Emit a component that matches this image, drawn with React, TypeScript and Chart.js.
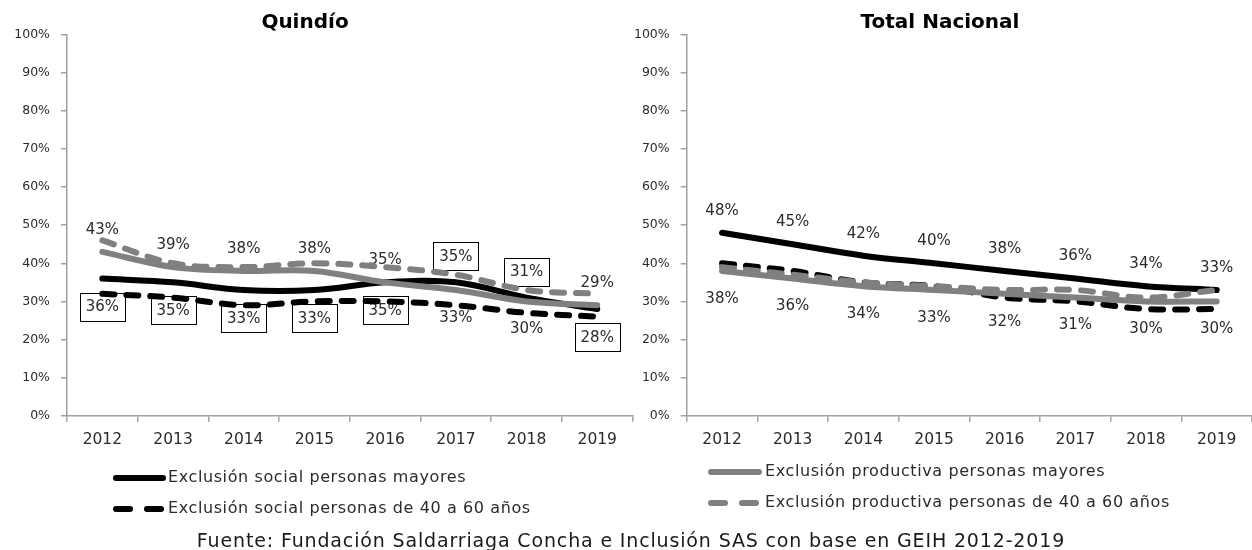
import React, { useEffect, useRef } from "react";
import { Chart, registerables } from "chart.js";

Chart.register(...registerables);

// ---------- data ----------
const years = ["2012", "2013", "2014", "2015", "2016", "2017", "2018", "2019"];

const seriesNames = [
  "Exclusión social personas mayores",
  "Exclusión social personas de 40 a 60 años",
  "Exclusión productiva personas mayores",
  "Exclusión productiva personas de 40 a 60 años",
];

const quindioSocialMayores = [36, 35, 33, 33, 35, 35, 31, 28];
const quindioSocial4060 = [32, 31, 29, 30, 30, 29, 27, 26];
const quindioProductivaMayores = [43, 39, 38, 38, 35, 33, 30, 29];
const quindioProductiva4060 = [46, 40, 39, 40, 39, 37, 33, 32];

const nacionalSocialMayores = [48, 45, 42, 40, 38, 36, 34, 33];
const nacionalSocial4060 = [40, 38, 35, 34, 31, 30, 28, 28];
const nacionalProductivaMayores = [38, 36, 34, 33, 32, 31, 30, 30];
const nacionalProductiva4060 = [39, 37, 35, 34, 33, 33, 31, 33];

const sourceText =
  "Fuente: Fundación Saldarriaga Concha e Inclusión SAS con base en GEIH 2012-2019";

// ---------- label placement (style, not data) ----------
type Place = "above" | "below";
const quindioBoxedPlaces: Place[] = ["below", "below", "below", "below", "below", "above", "above", "below"];
const quindioProdPlaces: Place[] = ["above", "above", "above", "above", "above", "below", "below", "above"];
const nacionalSocialPlaces: Place[] = ["above", "above", "above", "above", "above", "above", "above", "above"];
const nacionalProdPlaces: Place[] = ["below", "below", "below", "below", "below", "below", "below", "below"];

const FONT = '"DejaVu Sans", sans-serif';
const BLACK = "#000000";
const GRAY = "#808080";
const AXIS = "#a0a0a0";
const TEXT = "#2b2b2b";

Chart.defaults.font.family = FONT;

type SeriesSpec = { name: string; data: number[]; color: string; dashed: boolean; order: number };
type LabelSpec = { dataset: number; places: Place[]; boxed: boolean };
type LegendSpec = { dataset: number; x1: number; x2: number; tx: number; y: number };
type PanelSpec = {
  title: string;
  titleX: number;
  series: SeriesSpec[];
  labels: LabelSpec[];
  legend: LegendSpec[];
  yAxisWidth: number;
  padRight: number;
};

function makeSeries(a: number[], b: number[], c: number[], d: number[]): SeriesSpec[] {
  return [
    { name: seriesNames[0], data: a, color: BLACK, dashed: false, order: 4 },
    { name: seriesNames[1], data: b, color: BLACK, dashed: true, order: 3 },
    { name: seriesNames[2], data: c, color: GRAY, dashed: false, order: 2 },
    { name: seriesNames[3], data: d, color: GRAY, dashed: true, order: 1 },
  ];
}

const leftSpec: PanelSpec = {
  title: "Quindío",
  titleX: 305,
  series: makeSeries(quindioSocialMayores, quindioSocial4060, quindioProductivaMayores, quindioProductiva4060),
  labels: [
    { dataset: 0, places: quindioBoxedPlaces, boxed: true },
    { dataset: 2, places: quindioProdPlaces, boxed: false },
  ],
  legend: [
    { dataset: 0, x1: 116, x2: 163, tx: 168, y: 478 },
    { dataset: 1, x1: 116, x2: 163, tx: 168, y: 509 },
  ],
  yAxisWidth: 67,
  padRight: 12.4,
};

const rightSpec: PanelSpec = {
  title: "Total Nacional",
  titleX: 320,
  series: makeSeries(nacionalSocialMayores, nacionalSocial4060, nacionalProductivaMayores, nacionalProductiva4060),
  labels: [
    { dataset: 0, places: nacionalSocialPlaces, boxed: false },
    { dataset: 2, places: nacionalProdPlaces, boxed: false },
  ],
  legend: [
    { dataset: 2, x1: 91, x2: 139, tx: 145, y: 472 },
    { dataset: 3, x1: 91, x2: 139, tx: 145, y: 503 },
  ],
  yAxisWidth: 66.7,
  padRight: 0,
};

function buildChart(canvas: HTMLCanvasElement, spec: PanelSpec) {
  const datasets = spec.series.map((s) => ({
    label: s.name,
    data: s.data,
    borderColor: s.color,
    backgroundColor: s.color,
    borderWidth: 6,
    borderDash: s.dashed ? [12, 12] : [],
    borderCapStyle: "round" as const,
    borderJoinStyle: "round" as const,
    pointRadius: 0,
    pointHoverRadius: 0,
    tension: 0.35,
    fill: false,
    order: s.order,
  }));

  const decor = {
    id: "decor",
    beforeDatasetsDraw(chart: any) {
      const ctx = chart.ctx as CanvasRenderingContext2D;
      ctx.save();
      ctx.font = `15px ${FONT}`;
      ctx.textAlign = "center";
      ctx.textBaseline = "middle";
      for (const l of spec.labels) {
        const meta = chart.getDatasetMeta(l.dataset);
        const values = spec.series[l.dataset].data;
        meta.data.forEach((pt: any, i: number) => {
          const place = l.places[i];
          let off: number;
          if (l.boxed) off = place === "above" ? -26 : 28;
          else off = place === "above" ? -23 : 27;
          const x = pt.x;
          const y = pt.y + off;
          if (l.boxed) {
            ctx.strokeStyle = "#000";
            ctx.lineWidth = 1;
            ctx.strokeRect(Math.round(x - 22.5) + 0.5, Math.round(y - 14) + 0.5, 45, 28);
          }
          ctx.fillStyle = TEXT;
          ctx.fillText(`${values[i]}%`, x, y + 1);
        });
      }
      ctx.restore();
    },
    afterDraw(chart: any) {
      const ctx = chart.ctx as CanvasRenderingContext2D;
      ctx.save();
      // title
      ctx.font = `bold 20px ${FONT}`;
      ctx.fillStyle = "#000";
      ctx.textAlign = "center";
      ctx.textBaseline = "alphabetic";
      ctx.fillText(spec.title, spec.titleX, 28);
      // legend
      for (const lg of spec.legend) {
        const s = spec.series[lg.dataset];
        ctx.beginPath();
        ctx.strokeStyle = s.color;
        ctx.lineWidth = 6;
        ctx.lineCap = "round";
        ctx.setLineDash(s.dashed ? [14, 17] : []);
        ctx.moveTo(lg.x1, lg.y);
        ctx.lineTo(lg.x2, lg.y);
        ctx.stroke();
        ctx.setLineDash([]);
        ctx.font = `16px ${FONT}`;
        (ctx as any).letterSpacing = "0.6px";
        ctx.fillStyle = TEXT;
        ctx.textAlign = "left";
        ctx.textBaseline = "middle";
        ctx.fillText(s.name, lg.tx, lg.y);
        (ctx as any).letterSpacing = "0px";
      }
      ctx.restore();
    },
  };

  return new Chart(canvas, {
    type: "line",
    data: { labels: years, datasets: datasets as any },
    options: {
      responsive: false,
      animation: false,
      devicePixelRatio: 1,
      layout: { padding: { top: 34.7, right: spec.padRight, bottom: 0, left: 0 } },
      plugins: {
        legend: { display: false },
        tooltip: { enabled: false },
        title: { display: false },
      },
      scales: {
        x: {
          offset: true,
          grid: {
            offset: true,
            drawOnChartArea: false,
            drawTicks: true,
            tickLength: 6,
            color: AXIS,
            lineWidth: 1.5,
          },
          border: { color: AXIS, width: 1.5 },
          ticks: {
            color: TEXT,
            font: { size: 15.5, family: FONT },
            padding: 9,
            maxRotation: 0,
            autoSkip: false,
          },
          afterFit: (s: any) => {
            s.height = 134.3;
          },
        },
        y: {
          min: 0,
          max: 100,
          ticks: {
            stepSize: 10,
            callback: (v: any) => `${v}%`,
            color: TEXT,
            font: { size: 12.5, family: FONT },
            padding: 11,
          },
          grid: {
            drawOnChartArea: false,
            drawTicks: true,
            tickLength: 6,
            color: AXIS,
            lineWidth: 1.5,
          },
          border: { color: AXIS, width: 1.5 },
          afterFit: (s: any) => {
            s.width = spec.yAxisWidth;
          },
        },
      },
    } as any,
    plugins: [decor],
  });
}

export default function App() {
  const leftRef = useRef<HTMLCanvasElement>(null);
  const rightRef = useRef<HTMLCanvasElement>(null);

  useEffect(() => {
    const c1 = buildChart(leftRef.current!, leftSpec);
    const c2 = buildChart(rightRef.current!, rightSpec);
    return () => {
      c1.destroy();
      c2.destroy();
    };
  }, []);

  return (
    <div
      style={{
        position: "fixed",
        left: 0,
        top: 0,
        width: 1252,
        height: 550,
        background: "#fff",
        overflow: "hidden",
      }}
    >
      <canvas
        ref={leftRef}
        width={645}
        height={550}
        style={{ position: "absolute", left: 0, top: 0, width: 645, height: 550 }}
      />
      <canvas
        ref={rightRef}
        width={632}
        height={550}
        style={{ position: "absolute", left: 620, top: 0, width: 632, height: 550 }}
      />
      <div
        style={{
          position: "absolute",
          left: 0,
          top: 529,
          width: 1262,
          textAlign: "center",
          fontFamily: FONT,
          fontSize: 19,
          letterSpacing: "0.85px",
          lineHeight: "22px",
          color: "#1a1a1a",
          whiteSpace: "nowrap",
        }}
      >
        {sourceText}
      </div>
    </div>
  );
}
